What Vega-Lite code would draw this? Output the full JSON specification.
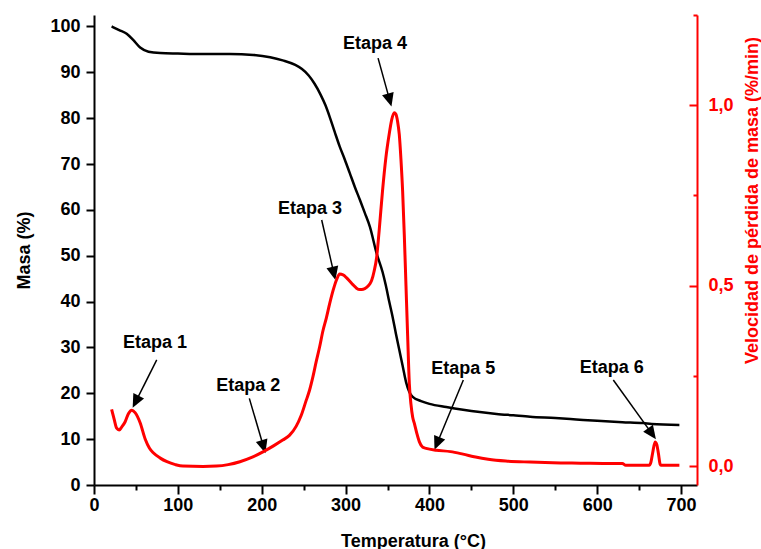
{
  "$schema": "https://vega.github.io/schema/vega-lite/v6.json",
  "width": 603,
  "height": 470,
  "autosize": {"type": "none"},
  "padding": {"left": 94, "top": 15, "right": 64, "bottom": 64},
  "config": {
    "view": {"stroke": null},
    "font": "Liberation Sans",
    "axis": {
      "labelFont": "Liberation Sans", "labelFontSize": 18, "labelFontWeight": "bold",
      "titleFont": "Liberation Sans", "titleFontSize": 18, "titleFontWeight": "bold",
      "grid": false, "labelColor": "black", "titleColor": "black",
      "domainWidth": 2, "tickWidth": 2, "domainColor": "black", "tickColor": "black",
      "labelFlush": false, "labelOverlap": false
    }
  },
  "datasets": {
    "masa": [
      {"T":21,"M":100},{"T":30,"M":99.2},{"T":39,"M":98.4},{"T":47,"M":97},{"T":55,"M":95.4},{"T":65,"M":94.5},{"T":79,"M":94.2},{"T":100,"M":94.1},{"T":130,"M":94},{"T":162,"M":94},{"T":190,"M":93.8},{"T":210,"M":93.3},{"T":225,"M":92.6},{"T":240,"M":91.6},{"T":248,"M":90.7},{"T":256,"M":89.3},{"T":263,"M":87.5},{"T":270,"M":85.2},{"T":276,"M":82.8},{"T":281,"M":80.3},{"T":287,"M":77},{"T":293,"M":73.8},{"T":299,"M":71},{"T":305,"M":68},{"T":311,"M":65},{"T":317,"M":62.2},{"T":323,"M":59.3},{"T":329,"M":56.3},{"T":337,"M":50.5},{"T":344,"M":46.5},{"T":348,"M":43.5},{"T":352,"M":40},{"T":356,"M":36.7},{"T":360,"M":33},{"T":364,"M":29.5},{"T":368,"M":26},{"T":372,"M":22.5},{"T":376,"M":20.3},{"T":380,"M":19.2},{"T":390,"M":18.3},{"T":400,"M":17.7},{"T":420,"M":17},{"T":440,"M":16.4},{"T":460,"M":15.9},{"T":480,"M":15.5},{"T":500,"M":15.2},{"T":520,"M":14.9},{"T":550,"M":14.6},{"T":575,"M":14.3},{"T":600,"M":14},{"T":630,"M":13.7},{"T":655,"M":13.5},{"T":665,"M":13.3},{"T":698,"M":13.1}
    ],
    "dtg": [
      {"T":21,"V":0.157},{"T":24,"V":0.13},{"T":27,"V":0.105},{"T":30,"V":0.1},{"T":33,"V":0.108},{"T":37,"V":0.122},{"T":41,"V":0.145},{"T":45,"V":0.155},{"T":49,"V":0.148},{"T":55,"V":0.12},{"T":61,"V":0.075},{"T":66,"V":0.05},{"T":71,"V":0.036},{"T":79,"V":0.022},{"T":87,"V":0.012},{"T":97,"V":0.004},{"T":106,"V":0.0},{"T":130,"V":-0.001},{"T":146,"V":0.0},{"T":160,"V":0.004},{"T":174,"V":0.012},{"T":188,"V":0.024},{"T":202,"V":0.04},{"T":214,"V":0.056},{"T":225,"V":0.072},{"T":233,"V":0.085},{"T":241,"V":0.11},{"T":247,"V":0.14},{"T":253,"V":0.182},{"T":257,"V":0.21},{"T":261,"V":0.247},{"T":265,"V":0.29},{"T":269,"V":0.33},{"T":273,"V":0.375},{"T":277,"V":0.41},{"T":281,"V":0.45},{"T":285,"V":0.486},{"T":289,"V":0.515},{"T":293,"V":0.532},{"T":297,"V":0.53},{"T":301,"V":0.522},{"T":305,"V":0.512},{"T":309,"V":0.502},{"T":313,"V":0.493},{"T":317,"V":0.489},{"T":321,"V":0.49},{"T":325,"V":0.495},{"T":329,"V":0.505},{"T":331,"V":0.514},{"T":334,"V":0.54},{"T":337,"V":0.578},{"T":340,"V":0.652},{"T":344,"V":0.762},{"T":348,"V":0.854},{"T":352,"V":0.92},{"T":355,"V":0.96},{"T":358,"V":0.979},{"T":360,"V":0.975},{"T":362,"V":0.955},{"T":364,"V":0.919},{"T":366,"V":0.85},{"T":368,"V":0.762},{"T":370,"V":0.64},{"T":372,"V":0.5},{"T":374,"V":0.36},{"T":376,"V":0.228},{"T":378,"V":0.17},{"T":380,"V":0.135},{"T":382,"V":0.118},{"T":385,"V":0.09},{"T":388,"V":0.067},{"T":392,"V":0.052},{"T":396,"V":0.049},{"T":408,"V":0.044},{"T":425,"V":0.04},{"T":440,"V":0.033},{"T":455,"V":0.025},{"T":470,"V":0.019},{"T":491,"V":0.014},{"T":520,"V":0.011},{"T":547,"V":0.009},{"T":580,"V":0.008},{"T":618,"V":0.007},{"T":630,"V":0.007},{"T":634,"V":0.002},{"T":662,"V":0.002},{"T":664,"V":0.01},{"T":666,"V":0.035},{"T":669,"V":0.067},{"T":671,"V":0.06},{"T":673,"V":0.035},{"T":675,"V":0.005},{"T":676,"V":0.002},{"T":698,"V":0.002}
    ],
    "notes": [
      {"label":"Etapa 1","T":72.7,"M":30.9,"T1":74.8,"M1":27.3,"T2":50.1,"M2":18.3},
      {"label":"Etapa 2","T":184,"M":21.6,"T1":185.2,"M1":18.9,"T2":201.9,"M2":8.5},
      {"label":"Etapa 3","T":257.6,"M":60.3,"T1":271.5,"M1":57.8,"T2":285.8,"M2":46.3},
      {"label":"Etapa 4","T":335.1,"M":96.2,"T1":338.7,"M1":93.1,"T2":352.3,"M2":84.1},
      {"label":"Etapa 5","T":440.4,"M":25.2,"T1":440.4,"M1":22.9,"T2":409.4,"M2":9.2},
      {"label":"Etapa 6","T":617.3,"M":25.5,"T1":619.2,"M1":22.9,"T2":664.8,"M2":11.3}
    ]
  },
  "layer": [
    {
      "layer": [
        {
          "data": {"name": "masa"},
          "mark": {"type": "line", "color": "black", "strokeWidth": 2.5, "interpolate": "monotone"},
          "encoding": {
            "x": {"field": "T", "type": "quantitative", "title": "Temperatura (°C)", "scale": {"domain": [0, 719], "nice": false, "zero": false},
              "axis": {"values": [0,50,100,150,200,250,300,350,400,450,500,550,600,650,700],
                "labelExpr": "datum.value % 100 == 0 ? datum.label : ''",
                "tickSize": {"condition": {"test": "datum.value % 100 != 0", "value": 5}, "value": 9},
                "labelPadding": 2, "titleX": 319, "titleY": 61, "titleBaseline": "alphabetic"}},
            "y": {"field": "M", "type": "quantitative", "title": "Masa (%)", "scale": {"domain": [0, 102.5], "nice": false},
              "axis": {"values": [0,5,10,15,20,25,30,35,40,45,50,55,60,65,70,75,80,85,90,95,100],
                "labelExpr": "datum.value % 10 == 0 ? datum.label : ''",
                "tickSize": {"condition": {"test": "datum.value % 10 != 0", "value": 4}, "value": 8},
                "labelPadding": 6, "titlePadding": 16}}
          }
        },
        {
          "data": {"name": "notes"},
          "mark": {"type": "rule", "color": "black", "strokeWidth": 1.5},
          "encoding": {
            "x": {"field": "T1", "type": "quantitative", "title": "Temperatura (°C)"},
            "y": {"field": "M1", "type": "quantitative", "title": "Masa (%)"},
            "x2": {"field": "T2"},
            "y2": {"field": "M2"}
          }
        },
        {
          "data": {"name": "notes"},
          "transform": [{"filter": "datum.label == 'Etapa 1'"}],
          "mark": {"type": "point", "shape": "M0,-1L-0.8,0.8L0.8,0.8Z", "size": 225, "filled": true, "color": "black", "opacity": 1, "angle": 206.6},
          "encoding": {"x": {"field": "T2", "type": "quantitative", "title": "Temperatura (°C)"}, "y": {"field": "M2", "type": "quantitative", "title": "Masa (%)"}}
        },
        {
          "data": {"name": "notes"},
          "transform": [{"filter": "datum.label == 'Etapa 2'"}],
          "mark": {"type": "point", "shape": "M0,-1L-0.8,0.8L0.8,0.8Z", "size": 225, "filled": true, "color": "black", "opacity": 1, "angle": 163.6},
          "encoding": {"x": {"field": "T2", "type": "quantitative", "title": "Temperatura (°C)"}, "y": {"field": "M2", "type": "quantitative", "title": "Masa (%)"}}
        },
        {
          "data": {"name": "notes"},
          "transform": [{"filter": "datum.label == 'Etapa 3'"}],
          "mark": {"type": "point", "shape": "M0,-1L-0.8,0.8L0.8,0.8Z", "size": 225, "filled": true, "color": "black", "opacity": 1, "angle": 167.1},
          "encoding": {"x": {"field": "T2", "type": "quantitative", "title": "Temperatura (°C)"}, "y": {"field": "M2", "type": "quantitative", "title": "Masa (%)"}}
        },
        {
          "data": {"name": "notes"},
          "transform": [{"filter": "datum.label == 'Etapa 4'"}],
          "mark": {"type": "point", "shape": "M0,-1L-0.8,0.8L0.8,0.8Z", "size": 225, "filled": true, "color": "black", "opacity": 1, "angle": 164.5},
          "encoding": {"x": {"field": "T2", "type": "quantitative", "title": "Temperatura (°C)"}, "y": {"field": "M2", "type": "quantitative", "title": "Masa (%)"}}
        },
        {
          "data": {"name": "notes"},
          "transform": [{"filter": "datum.label == 'Etapa 5'"}],
          "mark": {"type": "point", "shape": "M0,-1L-0.8,0.8L0.8,0.8Z", "size": 225, "filled": true, "color": "black", "opacity": 1, "angle": 202.5},
          "encoding": {"x": {"field": "T2", "type": "quantitative", "title": "Temperatura (°C)"}, "y": {"field": "M2", "type": "quantitative", "title": "Masa (%)"}}
        },
        {
          "data": {"name": "notes"},
          "transform": [{"filter": "datum.label == 'Etapa 6'"}],
          "mark": {"type": "point", "shape": "M0,-1L-0.8,0.8L0.8,0.8Z", "size": 225, "filled": true, "color": "black", "opacity": 1, "angle": 144.4},
          "encoding": {"x": {"field": "T2", "type": "quantitative", "title": "Temperatura (°C)"}, "y": {"field": "M2", "type": "quantitative", "title": "Masa (%)"}}
        },
        {
          "data": {"name": "notes"},
          "mark": {"type": "text", "font": "Liberation Sans", "fontSize": 18, "fontWeight": "bold", "color": "black", "align": "center", "baseline": "middle"},
          "encoding": {
            "x": {"field": "T", "type": "quantitative", "title": "Temperatura (°C)"},
            "y": {"field": "M", "type": "quantitative", "title": "Masa (%)"},
            "text": {"field": "label"}
          }
        }
      ]
    },
    {
      "data": {"name": "dtg"},
      "mark": {"type": "line", "color": "#ff0000", "strokeWidth": 3, "interpolate": "monotone"},
      "encoding": {
        "x": {"field": "T", "type": "quantitative", "title": "Temperatura (°C)"},
        "y": {"field": "V", "type": "quantitative", "scale": {"domain": [-0.0525, 1.25], "nice": false, "zero": false},
          "axis": {"orient": "right", "title": "Velocidad de pérdida de masa (%/min)",
            "values": [0, 0.25, 0.5, 0.75, 1, 1.25],
            "labelExpr": "(datum.value * 4) % 2 == 0 ? replace(format(datum.value, '.1f'), '.', ',') : ''",
            "tickSize": {"condition": {"test": "(datum.value * 4) % 2 != 0", "value": -4}, "value": -8},
            "labelPadding": 19,
            "domainColor": "#ff0000", "tickColor": "#ff0000", "labelColor": "#ff0000", "titleColor": "#ff0000",
            "titleAngle": 270, "titleX": 55, "titleY": 185, "titleBaseline": "middle", "titleAlign": "center"}}
      }
    }
  ],
  "resolve": {"scale": {"y": "independent"}, "axis": {"y": "independent"}}
}
